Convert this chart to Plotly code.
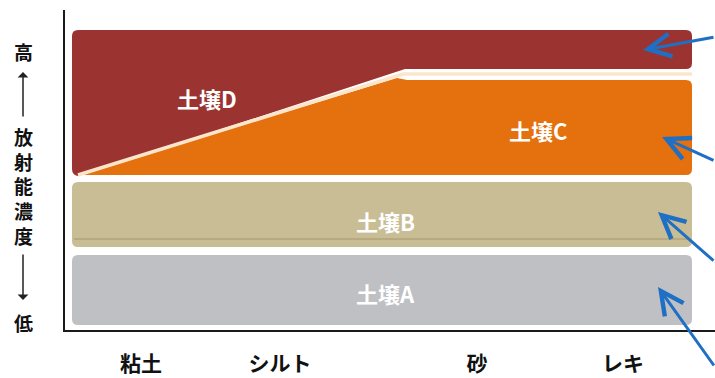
import plotly.graph_objects as go

# ---- data (diagram units: x 0..650, y 0..320) ----
soil_names = ["土壌A", "土壌B", "土壌C", "土壌D"]
soil_colors = ["#bfc0c3", "#c9bd96", "#e4700e", "#9b3430"]
band_x0, band_x1 = 7, 627
band_bottom = [5, 83, 155, 261]
band_top = [75, 148, 250, 300]
# red/orange boundary (diagonal then flat)
boundary_x = [13, 338, 627]
boundary_y = [155, 256, 256]
label_x = [320, 320, 473, 142]
label_y = [37, 109, 200, 232]

texture_labels = ["粘土", "シルト", "砂", "レキ"]
texture_pos = [76, 215, 412, 558]

arrow_head_x = [578, 597, 593, 593]
arrow_head_y = [280, 193, 118, 43]
arrow_dx = [90, 62, 64, 60]
arrow_dy = [-13, 24, 50, 80]

ytitle_top = "高"
ytitle_mid = ["放", "射", "能", "濃", "度"]
ytitle_bottom = "低"

r = 6


def rrect(x0, x1, y0, y1, rad):
    return (f"M {x0+rad},{y0} L {x1-rad},{y0} Q {x1},{y0} {x1},{y0+rad} "
            f"L {x1},{y1-rad} Q {x1},{y1} {x1-rad},{y1} L {x0+rad},{y1} "
            f"Q {x0},{y1} {x0},{y1-rad} L {x0},{y0+rad} Q {x0},{y0} {x0+rad},{y0} Z")


fig = go.Figure()
fig.add_trace(go.Scatter(x=[0, 650], y=[0, 320], mode="markers",
                         marker=dict(opacity=0), hoverinfo="skip", showlegend=False))

shapes = []
for i in range(2):
    shapes.append(dict(type="path", xref="x", yref="y",
                       path=rrect(band_x0, band_x1, band_bottom[i], band_top[i], r),
                       fillcolor=soil_colors[i], line=dict(width=0), layer="below"))
shapes.append(dict(type="line", xref="x", yref="y", x0=band_x0 + 2, x1=band_x1 - 2,
                   y0=band_bottom[1] + 8, y1=band_bottom[1] + 8,
                   line=dict(color="#b8aa80", width=2), layer="below"))

x0, x1 = band_x0, band_x1
yb, yt = band_bottom[2], band_top[2]
pathC = (f"M {boundary_x[0]},{boundary_y[0]} L {boundary_x[1]-6},{yt+2} L {boundary_x[1]+4},{yt} "
         f"L {x1-r},{yt} Q {x1},{yt} {x1},{yt-r} L {x1},{yb+r} Q {x1},{yb} {x1-r},{yb} Z")
shapes.append(dict(type="path", xref="x", yref="y", path=pathC,
                   fillcolor=soil_colors[2], line=dict(width=0), layer="below"))
ybD, ytD = band_bottom[3], band_top[3]
pathD = (f"M {x0},{yb+r} L {x0},{ytD-r} Q {x0},{ytD} {x0+r},{ytD} L {x1-r},{ytD} "
         f"Q {x1},{ytD} {x1},{ytD-r} L {x1},{ybD+r} Q {x1},{ybD} {x1-r},{ybD} "
         f"L {boundary_x[1]+2},{ybD} L {boundary_x[0]},{boundary_y[0]-1} "
         f"Q {x0},{yb} {x0},{yb+r} Z")
shapes.append(dict(type="path", xref="x", yref="y", path=pathD,
                   fillcolor=soil_colors[3], line=dict(width=0), layer="below"))
shapes.append(dict(type="path", xref="x", yref="y",
                   path=f"M {boundary_x[0]},{boundary_y[0]} L {boundary_x[1]},{boundary_y[1]} L {boundary_x[2]},{boundary_y[2]}",
                   line=dict(color="#fbe6cc", width=3.5), layer="below"))

annotations = []
for name, lx, ly in zip(soil_names, label_x, label_y):
    annotations.append(dict(x=lx, y=ly, xref="x", yref="y", text=f"<b>{name}</b>",
                            showarrow=False,
                            font=dict(family="Noto Sans CJK JP", size=22, color="white")))

for hx, hy, dx, dy in zip(arrow_head_x, arrow_head_y, arrow_dx, arrow_dy):
    annotations.append(dict(x=hx, y=hy, xref="x", yref="y", ax=dx, ay=dy, text="",
                            showarrow=True, arrowhead=5, arrowsize=1.5, arrowwidth=3,
                            arrowcolor="#1f6fc4"))

# y-axis title (vertical characters + arrows)
tx = (23 - 65) / 650
ttl_font = dict(family="Noto Sans CJK JP", size=19, color="#111")
annotations.append(dict(x=tx, y=(330 - 51) / 320, xref="paper", yref="paper",
                        xanchor="center", yanchor="middle",
                        text=f"<b>{ytitle_top}</b>", showarrow=False, font=ttl_font))
annotations.append(dict(x=tx, y=(330 - 186) / 320, xref="paper", yref="paper",
                        xanchor="center", yanchor="middle",
                        text="<br>".join(f"<b>{c}</b>" for c in ytitle_mid),
                        showarrow=False, font=ttl_font))
annotations.append(dict(x=tx, y=(330 - 322) / 320, xref="paper", yref="paper",
                        xanchor="center", yanchor="middle",
                        text=f"<b>{ytitle_bottom}</b>", showarrow=False, font=ttl_font))
annotations.append(dict(x=tx, y=(330 - 72) / 320, xref="paper", yref="paper",
                        ax=0, ay=46, text="", showarrow=True, arrowhead=1, arrowsize=1.2,
                        arrowwidth=1.5, arrowcolor="#222"))
annotations.append(dict(x=tx, y=(330 - 300) / 320, xref="paper", yref="paper",
                        ax=0, ay=-47, text="", showarrow=True, arrowhead=1, arrowsize=1.2,
                        arrowwidth=1.5, arrowcolor="#222"))

fig.update_layout(
    width=715, height=378,
    margin=dict(l=65, r=0, t=10, b=48),
    paper_bgcolor="white", plot_bgcolor="white",
    shapes=shapes, annotations=annotations, showlegend=False,
    xaxis=dict(range=[0, 650], showgrid=False, zeroline=False, showline=True,
               linecolor="#1a1a1a", linewidth=2, tickmode="array",
               tickvals=texture_pos, ticktext=[f"<b>{t}</b>" for t in texture_labels],
               ticks="outside", ticklen=14, tickcolor="rgba(0,0,0,0)",
               tickfont=dict(family="Noto Sans CJK JP", size=21, color="#111"),
               fixedrange=True, automargin=False),
    yaxis=dict(range=[0, 320], showgrid=False, zeroline=False, showline=True,
               linecolor="#1a1a1a", linewidth=2, showticklabels=False, ticks="",
               fixedrange=True),
)

fig.write_html("out.html", config={"displayModeBar": False},
               post_script="document.body.style.margin='0';")
